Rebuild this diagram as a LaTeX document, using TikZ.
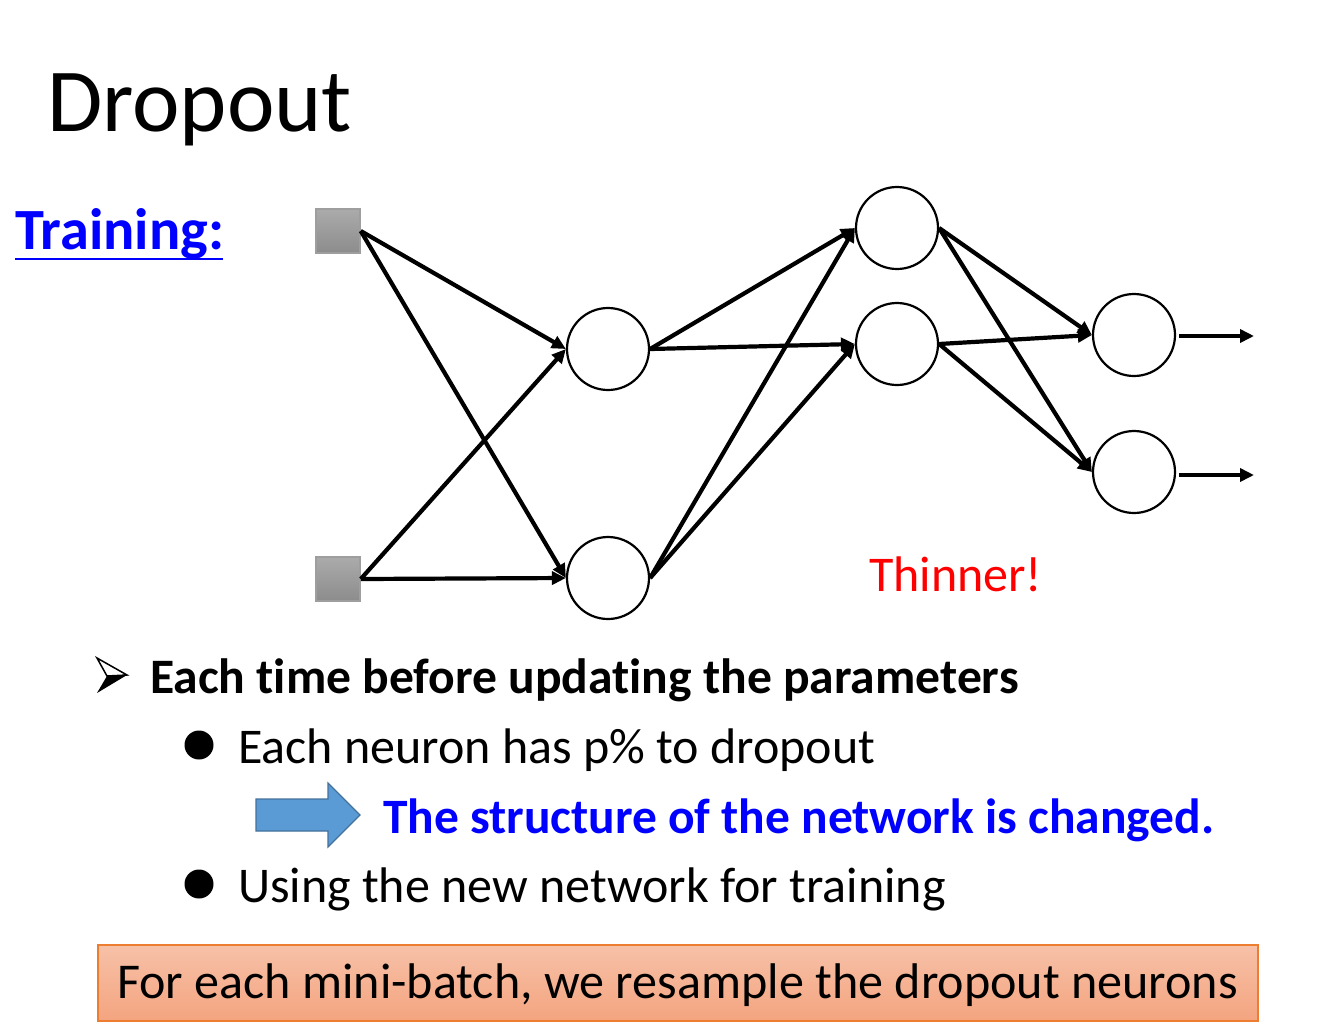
\documentclass[tikz,border=0pt]{standalone}
\usepackage{fontspec}
\setmainfont{Carlito}[Ligatures={NoCommon}]
\usetikzlibrary{arrows.meta}
\definecolor{sqtop}{HTML}{ABABAB}
\definecolor{sqbot}{HTML}{8C8C8C}
\definecolor{sqedge}{HTML}{9E9E9E}
\definecolor{tblue}{HTML}{0000FF}
\definecolor{tred}{HTML}{FF0000}
\definecolor{arrfill}{HTML}{5B9BD5}
\definecolor{arredge}{HTML}{41719C}
\definecolor{boxtop}{HTML}{F7C1A8}
\definecolor{boxbot}{HTML}{F4A47F}
\definecolor{boxedge}{HTML}{ED7D31}
\tikzset{
  neuron/.style={circle,draw=black,line width=2.2pt,minimum size=82pt,inner sep=0pt,fill=white},
  inputsq/.style={rectangle,draw=sqedge,line width=1.5pt,minimum size=44pt,inner sep=0pt,top color=sqtop,bottom color=sqbot},
  conn/.style={line width=4.2pt,-{Triangle[length=14pt,width=13pt]}},
  txt/.style={anchor=base west,inner sep=0pt,outer sep=0pt},
}
\begin{document}
\begin{tikzpicture}[x=1pt,y=-1pt]
\useasboundingbox (0,0) rectangle (1325,1021);
% title
\node[txt] (title) at (47,131) {\fontsize{90}{100}\selectfont Dropout};
\node[txt,text=tblue] (train) at (15,249) {\fontsize{58.4}{66}\selectfont\bfseries Training:};
\draw[tblue,line width=2.8pt] (train.base west)++(0,10) -- ++(208,0);
% network
\node[inputsq] (i1) at (338,231) {};
\node[inputsq] (i2) at (338,579) {};
\node[neuron] (h1) at (608,349) {};
\node[neuron] (h2) at (608,578) {};
\node[neuron] (g1) at (897,228) {};
\node[neuron] (g2) at (897,344) {};
\node[neuron] (o1) at (1134,335) {};
\node[neuron] (o2) at (1134,472) {};
\coordinate (e1) at (1254,336);
\coordinate (e2) at (1254,475);
\draw[conn] (i1.east) -- (h1.west);
\draw[conn] (i1.east) -- (h2.west);
\draw[conn] (i2.east) -- (h1.west);
\draw[conn] (i2.east) -- (h2.west);
\draw[conn] (h1.east) -- (g1.west);
\draw[conn] (h1.east) -- (g2.west);
\draw[conn] (h2.east) -- (g1.west);
\draw[conn] (h2.east) -- (g2.west);
\draw[conn] (g1.east) -- (o1.west);
\draw[conn] (g1.east) -- (o2.west);
\draw[conn] (g2.east) -- (o1.west);
\draw[conn] (g2.east) -- (o2.west);
\draw[conn] (o1.east)++(3,1) -- (e1);
\draw[conn] (o2.east)++(3,3) -- (e2);
\node[txt,text=tred] (thin) at (869,591) {\fontsize{50}{60}\selectfont Thinner!};
% bullets
\draw[line width=1.5pt,fill=white,line join=miter] (97,658) -- (127,675) -- (107,676) -- cycle;
\fill[black] (107,676) -- (127,675) -- (97,693) -- cycle;
\node[txt] (b1) at (150,693) {\fontsize{49.6}{60}\selectfont\bfseries Each time before updating the parameters};
\fill (199,745) circle (14.5);
\node[txt] (b2) at (238,763) {\fontsize{50}{60}\selectfont Each neuron has p\% to dropout};
\draw[arredge,fill=arrfill,line width=1.2pt] (256,799) -- (328,799) -- (328,783) -- (360,815) -- (328,847) -- (328,831) -- (256,831) -- cycle;
\node[txt,text=tblue] (b3) at (383,833) {\fontsize{49.5}{60}\selectfont\bfseries The structure of the network is changed.};
\fill (199,884) circle (14.5);
\node[txt] (b4) at (238,902) {\fontsize{50}{60}\selectfont Using the new network for training};
% box
\node[draw=boxedge,line width=2pt,top color=boxtop,bottom color=boxbot,minimum width=1160pt,minimum height=76pt,inner sep=0pt,anchor=north west] (box) at (97,944) {};
\node[txt] (boxtxt) at (117,998) {\fontsize{50.1}{60}\selectfont For each mini-batch, we resample the dropout neurons};
\end{tikzpicture}
\end{document}
